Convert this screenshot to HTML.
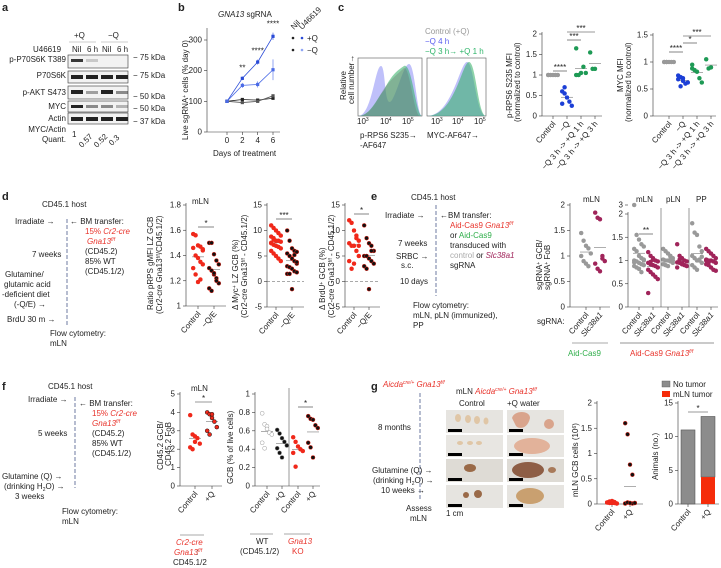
<!DOCTYPE html>
<html><head><meta charset="utf-8"><style>
html,body{margin:0;padding:0;background:#fff;}
svg{display:block;font-family:"Liberation Sans",sans-serif;}
text{font-size:8px;fill:#222;}
.pl{font-size:11px;font-weight:bold;}
.red{fill:#e8322a;}
</style></head><body>
<svg id="fig" width="721" height="568" viewBox="0 0 721 568">
<text class="pl" x="2" y="11">a</text>
<text class="pl" x="178" y="11">b</text>
<text class="pl" x="338" y="11">c</text>
<text class="pl" x="2" y="200">d</text>
<text class="pl" x="371" y="200">e</text>
<text class="pl" x="2" y="390">f</text>
<text class="pl" x="371" y="390">g</text>

<g>
<text x="74" y="38">+Q</text>
<line x1="69" y1="42" x2="96" y2="42" stroke="#999" stroke-width="0.6"/>
<text x="108" y="38">−Q</text>
<line x1="101" y1="42" x2="128" y2="42" stroke="#999" stroke-width="0.6"/>
<text x="33" y="52">U46619</text><text x="72" y="52">Nil</text><text x="87" y="52">6 h</text><text x="102" y="52">Nil</text><text x="117" y="52">6 h</text>
<text x="66" y="62" text-anchor="end">p-P70S6K T389</text>
<text x="66" y="78" text-anchor="end">P70S6K</text>
<text x="66" y="95" text-anchor="end">p-AKT S473</text>
<text x="66" y="109" text-anchor="end">MYC</text>
<text x="66" y="121" text-anchor="end">Actin</text>
<text x="66" y="132" text-anchor="end">MYC/Actin</text>
<text x="66" y="142" text-anchor="end">Quant.</text>
<rect x="68" y="55" width="60" height="13" fill="#f2f2f2" stroke="#333" stroke-width="0.6"/>
<rect x="68" y="71" width="60" height="12" fill="#f2f2f2" stroke="#333" stroke-width="0.6"/>
<rect x="68" y="86" width="60" height="13" fill="#f2f2f2" stroke="#333" stroke-width="0.6"/>
<rect x="68" y="101" width="60" height="11" fill="#f2f2f2" stroke="#333" stroke-width="0.6"/>
<rect x="68" y="113" width="60" height="11" fill="#f2f2f2" stroke="#333" stroke-width="0.6"/>
<g fill="#222">
<rect x="71" y="59" width="12" height="3" opacity="0.9"/><rect x="86" y="59" width="12" height="3" opacity="0.2"/>
<rect x="71" y="75" width="12" height="4"/><rect x="86" y="75" width="12" height="4"/><rect x="101" y="75" width="12" height="4"/><rect x="116" y="75" width="12" height="4"/>
<rect x="71" y="90" width="12" height="4"/><rect x="86" y="91" width="12" height="3" opacity="0.4"/><rect x="101" y="90" width="12" height="4"/><rect x="116" y="91" width="12" height="3" opacity="0.5"/>
<rect x="71" y="105" width="12" height="3"/><rect x="86" y="105" width="12" height="3" opacity="0.5"/><rect x="101" y="105" width="12" height="3" opacity="0.5"/><rect x="116" y="105" width="12" height="3" opacity="0.3"/>
<rect x="71" y="117" width="12" height="4"/><rect x="86" y="117" width="12" height="4"/><rect x="101" y="117" width="12" height="4"/><rect x="116" y="117" width="12" height="4"/>
</g>
<text x="133" y="60">− 75 kDa</text><text x="133" y="78">− 75 kDa</text><text x="133" y="99">− 50 kDa</text><text x="133" y="111">− 50 kDa</text><text x="133" y="124">− 37 kDa</text>
<text x="72" y="137">1</text>
<text transform="translate(82,148) rotate(-45)">0.57</text>
<text transform="translate(97,148) rotate(-45)">0.52</text>
<text transform="translate(112,146) rotate(-45)">0.3</text>
</g>

<text x="218" y="17"><tspan font-style="italic">GNA13</tspan> sgRNA</text>
<text transform="translate(188,140) rotate(-90)">Live sgRNA<tspan dy="-2" font-size="5">+</tspan><tspan dy="2"> cells (% day 0)</tspan></text>
<text x="213" y="156">Days of treatment</text>
<text transform="translate(294,30) rotate(-45)">Nil</text>
<text transform="translate(302,30) rotate(-45)">U46619</text>
<g>
<circle cx="293" cy="38" r="1.3" fill="#222"/><circle cx="302" cy="38" r="1.3" fill="#2a4bd7"/><text x="307" y="41">+Q</text>
<circle cx="293" cy="50" r="1.3" fill="#222"/><circle cx="302" cy="50" r="1.3" fill="#8fa6f5"/><text x="307" y="53">−Q</text>
</g>
<g id="b-chart"></g>

<text x="425" y="34" style="fill:#999">Control (+Q)</text>
<text x="425" y="44" style="fill:#5a5ef0">−Q 4 h</text>
<text x="425" y="54" style="fill:#2fb56a">−Q 3 h→ +Q 1 h</text>
<text transform="translate(346,100) rotate(-90)">Relative</text>
<text transform="translate(354,104) rotate(-90)">cell number→</text>
<g>
<rect x="358" y="58" width="64" height="58" fill="none" stroke="#555" stroke-width="0.6"/>
<path d="M358,116 C372,116 375,66 381,66 C386,66 384,112 392,100 C398,90 404,64 409,64 C415,64 417,116 422,116Z" fill="#8b8df5" opacity="0.55"/>
<path d="M358,116 C370,116 376,100 384,90 C392,74 398,70 404,66 C412,62 416,116 422,116Z" fill="#2fae63" opacity="0.55"/>
<path d="M358,116 C372,116 378,96 386,86 C394,76 400,72 404,68 C410,66 414,116 420,116Z" fill="#666" opacity="0.3"/>
<text x="357" y="124">10<tspan dy="-3" font-size="5">3</tspan></text><text x="380" y="124">10<tspan dy="-3" font-size="5">4</tspan></text><text x="402" y="124">10<tspan dy="-3" font-size="5">5</tspan></text>
<text x="360" y="138">p-RPS6 S235→</text><text x="360" y="148">-AF647</text>
</g>
<g>
<rect x="427" y="58" width="59" height="58" fill="none" stroke="#555" stroke-width="0.6"/>
<path d="M427,116 C452,116 460,62 467,62 C474,62 476,116 486,116Z" fill="#8b8df5" opacity="0.55"/>
<path d="M427,116 C455,116 462,62 469,62 C476,62 478,116 486,116Z" fill="#2fae63" opacity="0.55"/>
<text x="431" y="124">10<tspan dy="-3" font-size="5">3</tspan></text><text x="452" y="124">10<tspan dy="-3" font-size="5">4</tspan></text><text x="474" y="124">10<tspan dy="-3" font-size="5">5</tspan></text>
<text x="427" y="138">MYC-AF647→</text>
</g>
<text transform="translate(512,118) rotate(-90)">p-RPS6 S235 MFI</text>
<text transform="translate(520,122) rotate(-90)">(normalized to control)</text>
<text transform="translate(623,92) rotate(-90)">MYC MFI</text>
<text transform="translate(631,122) rotate(-90)">(normalized to control)</text>

<g>
<text x="42" y="207">CD45.1 host</text>
<text x="15" y="224">Irradiate →</text>
<line x1="67" y1="219" x2="67" y2="325" stroke="#4a5a8a" stroke-dasharray="4,2" stroke-width="0.8"/>
<text x="70" y="224">← BM transfer:</text>
<text x="85" y="234" class="red">15% <tspan font-style="italic">Cr2-cre</tspan></text>
<text x="87" y="244" class="red" font-style="italic">Gna13<tspan dy="-3" font-size="5">f/f</tspan></text>
<text x="85" y="254">(CD45.2)</text><text x="85" y="264">85% WT</text><text x="85" y="274">(CD45.1/2)</text>
<text x="32" y="257">7 weeks</text>
<text x="5" y="277">Glutamine/</text><text x="4" y="287">glutamic acid</text><text x="2" y="297">-deficient diet</text><text x="14" y="307">(-Q/E)    →</text>
<text x="7" y="322">BrdU 30 m →</text>
<text x="50" y="336">Flow cytometry:</text><text x="50" y="346">mLN</text>
</g>
<text x="192" y="204">mLN</text>
<text transform="translate(153,310) rotate(-90)">Ratio pRPS gMFI LZ GCB</text>
<text transform="translate(162,314) rotate(-90)">(Cr2-cre Gna13<tspan font-size="5" dy="-2">f/f</tspan><tspan dy="2">/CD45.1/2)</tspan></text>
<text transform="translate(238,310) rotate(-90)">Δ Myc<tspan font-size="5" dy="-2">+</tspan><tspan dy="2"> LZ GCB (%)</tspan></text>
<text transform="translate(247,318) rotate(-90)">(Cr2-cre Gna13<tspan font-size="5" dy="-2">f/f</tspan><tspan dy="2"> - CD45.1/2)</tspan></text>
<text transform="translate(325,310) rotate(-90)">Δ BrdU<tspan font-size="5" dy="-2">+</tspan><tspan dy="2"> GCB (%)</tspan></text>
<text transform="translate(334,318) rotate(-90)">(Cr2-cre Gna13<tspan font-size="5" dy="-2">f/f</tspan><tspan dy="2"> - CD45.1/2)</tspan></text>

<g>
<text x="411" y="200">CD45.1 host</text>
<text x="385" y="218">Irradiate →</text>
<line x1="436" y1="205" x2="436" y2="296" stroke="#4a5a8a" stroke-dasharray="4,2" stroke-width="0.8"/>
<text x="440" y="218">←BM transfer:</text>
<text x="450" y="228" class="red">Aid-Cas9 <tspan font-style="italic">Gna13<tspan dy="-3" font-size="5">f/f</tspan></tspan></text>
<text x="450" y="238">or <tspan style="fill:#2fae4a">Aid-Cas9</tspan></text>
<text x="450" y="248">transduced with</text>
<text x="450" y="258"><tspan style="fill:#aaa">control</tspan> or <tspan style="fill:#a0245a" font-style="italic">Slc38a1</tspan></text>
<text x="450" y="268">sgRNA</text>
<text x="398" y="246">7 weeks</text>
<text x="396" y="259">SRBC  →</text><text x="401" y="268">s.c.</text>
<text x="400" y="284">10 days</text>
<text x="413" y="308">Flow cytometry:</text><text x="413" y="318">mLN, pLN (immunized),</text><text x="413" y="328">PP</text>
</g>
<text transform="translate(542,290) rotate(-90)">sgRNA<tspan font-size="5" dy="-2">+</tspan><tspan dy="2"> GCB/</tspan></text>
<text transform="translate(550,290) rotate(-90)">sgRNA<tspan font-size="5" dy="-2">+</tspan><tspan dy="2"> FoB</tspan></text>
<text x="583" y="202">mLN</text><text x="636" y="202">mLN</text><text x="666" y="202">pLN</text><text x="696" y="202">PP</text>
<text x="537" y="324">sgRNA:</text>
<line x1="572" y1="343" x2="608" y2="343" stroke="#555" stroke-width="0.6"/>
<text x="568" y="356" style="fill:#2fae4a">Aid-Cas9</text>
<line x1="620" y1="343" x2="714" y2="343" stroke="#aaa" stroke-width="1.2"/>
<text x="630" y="356" class="red">Aid-Cas9 <tspan font-style="italic">Gna13<tspan dy="-3" font-size="5">f/f</tspan></tspan></text>

<g>
<text x="48" y="389">CD45.1 host</text>
<text x="28" y="402">Irradiate →</text>
<line x1="75" y1="397" x2="75" y2="488" stroke="#4a5a8a" stroke-dasharray="4,2" stroke-width="0.8"/>
<text x="79" y="406">← BM transfer:</text>
<text x="92" y="416" class="red">15% <tspan font-style="italic">Cr2-cre</tspan></text>
<text x="92" y="426" class="red" font-style="italic">Gna13<tspan dy="-3" font-size="5">f/f</tspan></text>
<text x="92" y="436">(CD45.2)</text><text x="92" y="446">85% WT</text><text x="92" y="456">(CD45.1/2)</text>
<text x="38" y="436">5 weeks</text>
<text x="2" y="479">Glutamine (Q)  →</text><text x="4" y="489">(drinking H<tspan font-size="5" dy="2">2</tspan><tspan dy="-2">O)</tspan> →</text><text x="15" y="499">3 weeks</text>
<text x="62" y="514">Flow cytometry:</text><text x="62" y="524">mLN</text>
</g>
<text x="191" y="391">mLN</text>
<text transform="translate(163,470) rotate(-90)">CD45.2 GCB/</text>
<text transform="translate(171,466) rotate(-90)">CD45.2 FoB</text>
<line x1="180" y1="535" x2="204" y2="535" stroke="#555" stroke-width="0.6"/>
<text x="176" y="545" class="red" font-style="italic">Cr2-cre</text>
<text x="174" y="555" class="red" font-style="italic">Gna13<tspan dy="-3" font-size="5">f/f</tspan></text><text x="196" y="555">:</text>
<text x="173" y="565">CD45.1/2</text>
<text transform="translate(233,484) rotate(-90)">GCB (% of live cells)</text>
<line x1="250" y1="534" x2="273" y2="534" stroke="#aaa" stroke-width="1"/>
<line x1="284" y1="534" x2="310" y2="534" stroke="#aaa" stroke-width="1"/>
<text x="256" y="544">WT</text><text x="240" y="554">(CD45.1/2)</text>
<text x="288" y="544" class="red" font-style="italic">Gna13</text><text x="292" y="554" class="red">KO</text>

<g>
<text x="383" y="387" class="red" font-style="italic">Aicda<tspan dy="-3" font-size="5">cre/+</tspan><tspan dy="3"> Gna13</tspan><tspan dy="-3" font-size="5">f/f</tspan></text>
<line x1="420" y1="393" x2="420" y2="500" stroke="#4a5a8a" stroke-dasharray="4,2" stroke-width="0.8"/>
<text x="378" y="430">8 months</text>
<text x="372" y="473">Glutamine (Q) →</text><text x="373" y="483">(drinking H<tspan font-size="5" dy="2">2</tspan><tspan dy="-2">O) →</tspan></text><text x="381" y="493">10 weeks →</text>
<text x="406" y="511">Assess</text><text x="410" y="521">mLN</text>
</g>
<text x="456" y="394">mLN <tspan class="red" font-style="italic">Aicda<tspan dy="-3" font-size="5">cre/+</tspan><tspan dy="3"> Gna13</tspan><tspan dy="-3" font-size="5">f/f</tspan></tspan></text>
<text x="459" y="406">Control</text><text x="507" y="406">+Q water</text>
<g>
<rect x="446" y="410" width="57" height="23" fill="#e6e4e0"/><rect x="507" y="410" width="57" height="23" fill="#e6e4e0"/>
<rect x="446" y="435" width="57" height="22" fill="#e8e6e2"/><rect x="507" y="435" width="57" height="22" fill="#e8e6e2"/>
<rect x="446" y="459" width="57" height="23" fill="#dedbd5"/><rect x="507" y="459" width="57" height="23" fill="#dedbd5"/>
<rect x="446" y="485" width="57" height="23" fill="#e6e4e0"/><rect x="507" y="485" width="57" height="23" fill="#e6e4e0"/>
<g fill="#e0c6a6"><ellipse cx="458" cy="418" rx="3" ry="4"/><ellipse cx="468" cy="419" rx="3" ry="4"/><ellipse cx="477" cy="420" rx="3" ry="4"/><ellipse cx="486" cy="421" rx="2.5" ry="3.5"/>
<ellipse cx="460" cy="443" rx="3" ry="2"/><ellipse cx="470" cy="443" rx="3" ry="2"/><ellipse cx="479" cy="443" rx="3" ry="2"/></g>
<g fill="#9a6a48"><ellipse cx="470" cy="468" rx="6" ry="4"/><ellipse cx="478" cy="494" rx="4" ry="4"/><ellipse cx="466" cy="495" rx="3" ry="3"/></g>
<path d="M512,418 C514,410 530,410 530,418 C528,428 520,430 516,426Z" fill="#d9a48c"/><circle cx="549" cy="424" r="5" fill="#d9a48c"/>
<ellipse cx="532" cy="446" rx="18" ry="8" fill="#e2b29a"/>
<ellipse cx="528" cy="470" rx="16" ry="8" fill="#8e5e45"/><ellipse cx="552" cy="470" rx="4" ry="3" fill="#a87a5a"/>
<ellipse cx="530" cy="496" rx="14" ry="8" fill="#c9a070"/>
<g fill="#000"><rect x="448" y="429" width="14" height="3"/><rect x="509" y="429" width="14" height="3"/><rect x="448" y="453" width="14" height="3"/><rect x="509" y="453" width="14" height="3"/><rect x="448" y="478" width="14" height="3"/><rect x="509" y="478" width="14" height="3"/><rect x="448" y="504" width="14" height="3"/><rect x="509" y="504" width="14" height="3"/></g>
</g>
<text x="446" y="516">1 cm</text>
<text transform="translate(578,497) rotate(-90)">mLN GCB cells (10<tspan font-size="5" dy="-2">6</tspan><tspan dy="2">)</tspan></text>
<text transform="translate(658,480) rotate(-90)">Animals (no.)</text>
<g>
<rect x="662" y="381" width="8" height="6" fill="#8c8c8c" stroke="#555" stroke-width="0.4"/><text x="673" y="387">No tumor</text>
<rect x="662" y="391" width="8" height="6" fill="#f52c0a"/><text x="673" y="397">mLN tumor</text>
</g>

<g id="plots"></g>
</svg>
<script>
const bDays = [0, 2, 4, 6];
const bNilPlusQ = [100, 106, 104, 110];
const bNilMinusQ = [100, 96, 100, 118];
const bU46PlusQ = [100, 175, 228, 312];
const bU46MinusQ = [100, 152, 155, 203];
const bErrU46PlusQ = [0, 6, 8, 12];
const bErrU46MinusQ = [0, 8, 10, 34];
const bYTicks = [0, 100, 200, 300];
const bSig = ["", "**", "****", "****"];

const c1Control = [1, 1, 1, 1, 1, 1];
const c1MinusQ = [0.6, 0.7, 0.45, 0.35, 0.25, 0.3, 0.55];
const c1Re1h = [1.65, 1.0, 1.05, 1.2, 1.05, 1.0];
const c1Re3h = [1.55, 1.15, 1.15];
const c2Control = [1, 1, 1, 1, 1, 1, 1];
const c2MinusQ = [0.75, 0.72, 0.65, 0.6, 0.62, 0.68, 0.55, 0.7];
const c2Re1h = [0.95, 0.85, 0.82, 0.7, 0.62, 0.88];
const c2Re3h = [1.05, 0.88, 0.9];
const d1Control = [1.57, 1.56, 1.48, 1.47, 1.45, 1.46, 1.40, 1.38, 1.35, 1.33, 1.30, 1.25, 1.19, 1.21, 1.44];
const d1MinusQE = [1.50, 1.50, 1.41, 1.36, 1.33, 1.30, 1.28, 1.25, 1.22, 1.18, 1.14, 1.12, 1.26, 1.20];
const d2Control = [11, 10.5, 10, 9.5, 9, 8.8, 8.5, 8, 8, 7.8, 7.5, 7.2, 7, 6.8, 6.5, 6, 5.5, 5, 4.5, 4, 7.6, 8.2];
const d2MinusQE = [10, 8, 6.5, 6, 5.8, 5.5, 5, 4.5, 4, 3.5, 3, 2.8, 2.5, 2, 1.8, 1.5, 1.5, -1.5, 5.2, 3.8];
const d3Control = [12, 11.5, 10, 9, 8, 7.5, 7, 7, 6, 5, 4, 2.5, 3.5, 8.5, 7];
const d3MinusQE = [11, 8.5, 7.5, 7, 6, 5, 5, 4.5, 4, 3.5, 3, 2.5, -1.5, 6];
const e1Control = [1.45, 1.3, 1.2, 1.15, 1.05, 1.0, 0.9, 0.85, 0.8];
const e1Slc = [1.85, 1.75, 1.72, 1.0, 0.9, 0.85, 0.75, 0.7, 0.95];
const e2mLNControl = [3.0, 1.55, 1.45, 1.35, 1.3, 1.25, 1.2, 1.1, 1.05, 1.0, 1.0, 0.98, 0.95, 0.92, 0.9, 0.88, 0.85, 0.82, 0.75, 1.02, 0.96];
const e2mLNSlc = [1.18, 1.1, 1.05, 1.0, 0.98, 0.95, 0.92, 0.9, 0.88, 0.85, 0.8, 0.75, 0.7, 0.65, 0.6, 0.3, 0.97, 1.02];
const e2pLNControl = [1.25, 1.2, 1.15, 1.1, 1.05, 1.02, 1.0, 1.0, 0.98, 0.95, 0.92, 0.9, 0.88, 1.08, 1.0];
const e2pLNSlc = [1.35, 1.1, 1.05, 1.0, 0.98, 0.96, 0.95, 0.92, 0.9, 0.88, 0.85, 1.02, 0.94];
const e2PPControl = [1.8, 1.6, 1.55, 1.3, 1.2, 1.1, 1.05, 1.0, 1.0, 0.95, 0.9, 0.85, 0.8, 1.02, 1.08];
const e2PPSlc = [1.25, 1.2, 1.15, 1.1, 1.05, 1.02, 1.0, 1.0, 0.98, 0.95, 0.92, 0.9, 0.85, 0.8, 0.78, 1.0, 0.96];
const f1Control = [3.85, 2.8, 2.7, 2.6, 2.3, 2.1, 2.0, 2.4];
const f1PlusQ = [4.0, 3.9, 3.7, 3.5, 3.2, 3.0, 2.8, 3.9];
const f2WTControl = [0.79, 0.67, 0.65, 0.58, 0.56, 0.47, 0.41, 0.62];
const f2WTPlusQ = [0.61, 0.57, 0.52, 0.48, 0.44, 0.41, 0.36, 0.31];
const f2KOControl = [0.53, 0.48, 0.43, 0.40, 0.38, 0.36, 0.21];
const f2KOPlusQ = [0.76, 0.73, 0.72, 0.66, 0.63, 0.47, 0.42, 0.31];
const g1Control = [0.03, 0.05, 0.02, 0.04, 0.01, 0.03, 0.02, 0.06, 0.02, 0.01, 0.03];
const g1PlusQ = [1.6, 1.38, 0.78, 0.58, 0.02, 0.01, 0.03, 0.02, 0.01, 0.02, 0.01, 0.03, 0.02];
const g2Categories = ["Control", "+Q"];
const g2NoTumor = [11, 9];
const g2Tumor = [0, 4];

const NS = "http://www.w3.org/2000/svg";
const root = document.getElementById("plots");
function mk(tag, attrs, parent) {
  const e = document.createElementNS(NS, tag);
  for (const k in attrs) e.setAttribute(k, attrs[k]);
  (parent || root).appendChild(e);
  return e;
}
function lin(d0, d1, r0, r1) { return v => r0 + (v - d0) * (r1 - r0) / (d1 - d0); }

(function () {
  const g = document.getElementById("b-chart");
  const x = lin(0, 6, 227, 273), y = lin(0, 300, 132, 40);
  mk("line", {x1: 207, y1: 28, x2: 207, y2: 132, stroke: "#333", "stroke-width": 0.6}, g);
  mk("line", {x1: 207, y1: 132, x2: 280, y2: 132, stroke: "#333", "stroke-width": 0.6}, g);
  bYTicks.forEach(t => {
    mk("line", {x1: 204, y1: y(t), x2: 207, y2: y(t), stroke: "#333", "stroke-width": 0.6}, g);
    const tx = mk("text", {x: 202, y: y(t) + 2.5, "text-anchor": "end"}, g); tx.textContent = t;
  });
  bDays.forEach(d => {
    mk("line", {x1: x(d), y1: 132, x2: x(d), y2: 135, stroke: "#333", "stroke-width": 0.6}, g);
    const tx = mk("text", {x: x(d), y: 143, "text-anchor": "middle"}, g); tx.textContent = d;
  });
  const series = [[bNilPlusQ, "#222", null], [bNilMinusQ, "#555", null], [bU46PlusQ, "#2a4bd7", bErrU46PlusQ], [bU46MinusQ, "#4a6ae6", bErrU46MinusQ]];
  series.forEach(([vals, col, err]) => {
    const p = mk("polyline", {points: vals.map((v, i) => x(bDays[i]) + "," + y(v)).join(" "), fill: "none", stroke: col, "stroke-width": 0.8}, g);
    
    
    vals.forEach((v, i) => {
      if (err) mk("line", {x1: x(bDays[i]), y1: y(v - err[i]), x2: x(bDays[i]), y2: y(v + err[i]), stroke: col, "stroke-width": 0.6}, g);
      const pt = mk("rect", {x: x(bDays[i]) - 1.6, y: y(v) - 1.6, width: 3.2, height: 3.2, fill: col}, g);
      
      
    });
  });
  bSig.forEach((s, i) => {
    if (!s) return;
    const v = bU46PlusQ[i] + bErrU46PlusQ[i];
    const t = mk("text", {x: x(bDays[i]), y: y(v) - 6, "text-anchor": "middle"}, g); t.textContent = s;
  });
})();

function dotPlot(opt) {
  const y = lin(opt.y0, opt.y1, opt.py0, opt.py1);
  mk("line", {x1: opt.ax, y1: opt.py1 - 2, x2: opt.ax, y2: opt.py0, stroke: "#333", "stroke-width": 0.6});
  mk("line", {x1: opt.ax, y1: opt.py0, x2: opt.axEnd, y2: opt.py0, stroke: "#333", "stroke-width": 0.6});
  opt.ticks.forEach(t => {
    const yy = opt.tickPos ? opt.tickPos(t) : y(t);
    mk("line", {x1: opt.ax - 3, y1: yy, x2: opt.ax, y2: yy, stroke: "#333", "stroke-width": 0.6});
    const tx = mk("text", {x: opt.ax - 5, y: yy + 2.5, "text-anchor": "end"}); tx.textContent = t;
  });
  if (opt.zeroLine) mk("line", {x1: opt.ax, y1: y(0), x2: opt.axEnd, y2: y(0), stroke: "#555", "stroke-width": 0.6, "stroke-dasharray": "3,2"});
  opt.groups.forEach((vals, gi) => {
    const cx = opt.cats[gi];
    mk("line", {x1: cx, y1: opt.py0, x2: cx, y2: opt.py0 + 3, stroke: "#333", "stroke-width": 0.6});
    const lbl = mk("text", {transform: `translate(${cx + 3},${opt.py0 + 8}) rotate(-50)`, "text-anchor": "end"});
    lbl.textContent = opt.labels[gi];
    if (opt.italic && opt.italic[gi]) lbl.setAttribute("font-style", "italic");
    const mean = vals.reduce((a, b) => a + b, 0) / vals.length;
    const yv = opt.map ? opt.map : y;
    mk("line", {x1: cx - 6, y1: yv(mean), x2: cx + 6, y2: yv(mean), stroke: "#777", "stroke-width": 0.6});
    vals.forEach((v, i) => {
      const off = ((i % 5) - 2) * 2.4;
      const c = mk("circle", {cx: cx + off, cy: yv(v), r: 2, fill: opt.fill[gi], stroke: opt.stroke[gi], "stroke-width": 0.5});
      
      
    });
  });
  (opt.sig || []).forEach(s => {
    const yy = opt.py1 + s[3];
    mk("line", {x1: opt.cats[s[0]], y1: yy, x2: opt.cats[s[1]], y2: yy, stroke: "#333", "stroke-width": 0.6});
    const t = mk("text", {x: (opt.cats[s[0]] + opt.cats[s[1]]) / 2, y: yy - 1, "text-anchor": "middle"}); t.textContent = s[2];
  });
  (opt.dividers || []).forEach(dx => mk("line", {x1: dx, y1: opt.py1 - 6, x2: dx, y2: opt.py0, stroke: "#555", "stroke-width": 0.6}));
}
const gray = "#999", blue = "#1c3fd6", green = "#1e9a55", red = "#f0281a", blk = "#111", plum = "#a0245a";
dotPlot({ax: 542, axEnd: 602, y0: 0, y1: 2, py0: 116, py1: 34, ticks: [0, 0.5, 1.0, 1.5, 2.0], cats: [553, 567, 581, 595],
  groups: [c1Control, c1MinusQ, c1Re1h, c1Re3h], labels: ["Control", "−Q", "−Q 3 h -> +Q 1 h", "−Q 3 h -> +Q 3 h"],
  fill: [gray, blue, green, green], stroke: [gray, blue, green, green], sig: [[0, 1, "****", 37], [1, 2, "***", 6], [1, 3, "***", -2]]});
dotPlot({ax: 653, axEnd: 716, y0: 0, y1: 1.5, py0: 116, py1: 35, ticks: [0, 0.5, 1.0, 1.5], cats: [669, 683, 697, 711],
  groups: [c2Control, c2MinusQ, c2Re1h, c2Re3h], labels: ["Control", "−Q", "−Q 3 h -> +Q 1 h", "−Q 3 h -> +Q 3 h"],
  fill: [gray, blue, green, green], stroke: [gray, blue, green, green], sig: [[0, 1, "****", 17], [1, 2, "*", 8], [1, 3, "***", 1]]});
dotPlot({ax: 186, axEnd: 226, y0: 1.0, y1: 1.8, py0: 306, py1: 205, ticks: [1.0, 1.2, 1.4, 1.6, 1.8], cats: [198, 214],
  groups: [d1Control, d1MinusQE], labels: ["Control", "−Q/E"], fill: [red, blk], stroke: [red, red], sig: [[0, 1, "*", 22]]});
dotPlot({ax: 267, axEnd: 304, y0: -5, y1: 15, py0: 307, py1: 205, ticks: [-5, 0, 5, 10, 15], cats: [276, 292], zeroLine: true,
  groups: [d2Control, d2MinusQE], labels: ["Control", "−Q/E"], fill: [red, blk], stroke: [red, red], sig: [[0, 1, "***", 14]]});
dotPlot({ax: 345, axEnd: 380, y0: -5, y1: 15, py0: 307, py1: 205, ticks: [-5, 0, 5, 10, 15], cats: [354, 369], zeroLine: true,
  groups: [d3Control, d3MinusQE], labels: ["Control", "−Q/E"], fill: [red, blk], stroke: [red, red], sig: [[0, 1, "*", 9]]});
dotPlot({ax: 570, axEnd: 610, y0: 0, y1: 2, py0: 307, py1: 205, ticks: [0, 0.5, 1.0, 1.5, 2.0], cats: [586, 600],
  groups: [e1Control, e1Slc], labels: ["Control", "Slc38a1"], italic: [false, true], fill: [gray, plum], stroke: [gray, plum]});
const e2map = v => v <= 2 ? lin(0, 2, 307, 214)(v) : 214 - (v - 2) * 9;
dotPlot({ax: 628, axEnd: 718, y0: 0, y1: 2, py0: 307, py1: 214, map: e2map, tickPos: e2map, ticks: [0, 0.5, 1.0, 1.5, 2.0, 3.0], cats: [639, 653, 668, 682, 697, 711],
  groups: [e2mLNControl, e2mLNSlc, e2pLNControl, e2pLNSlc, e2PPControl, e2PPSlc], labels: ["Control", "Slc38a1", "Control", "Slc38a1", "Control", "Slc38a1"],
  italic: [false, true, false, true, false, true], fill: [gray, plum, gray, plum, gray, plum], stroke: [gray, plum, gray, plum, gray, plum],
  sig: [[0, 1, "**", 20]], dividers: [661, 689]});
dotPlot({ax: 180, axEnd: 222, y0: 0, y1: 5, py0: 486, py1: 394, ticks: [0, 1, 2, 3, 4, 5], cats: [195, 212],
  groups: [f1Control, f1PlusQ], labels: ["Control", "+Q"], fill: [red, red], stroke: [red, blk], sig: [[0, 1, "*", 8]]});
dotPlot({ax: 255, axEnd: 320, y0: 0, y1: 1.0, py0: 486, py1: 394, ticks: [0, 0.2, 0.4, 0.6, 0.8, 1.0], cats: [267, 282, 298, 313],
  groups: [f2WTControl, f2WTPlusQ, f2KOControl, f2KOPlusQ], labels: ["Control", "+Q", "Control", "+Q"],
  fill: ["#fff", blk, red, blk], stroke: [gray, "#888", red, red], sig: [[2, 3, "*", 13]], dividers: [289]});
dotPlot({ax: 597, axEnd: 643, y0: 0, y1: 2, py0: 504, py1: 403, ticks: [0, 0.5, 1.0, 1.5, 2.0], cats: [612, 630],
  groups: [g1Control, g1PlusQ], labels: ["Control", "+Q"], fill: [red, blk], stroke: [red, red]});

(function () {
  const y = lin(0, 15, 504, 403);
  const xc = [688, 708];
  mk("line", {x1: 678, y1: 401, x2: 678, y2: 504, stroke: "#333", "stroke-width": 0.6});
  mk("line", {x1: 678, y1: 504, x2: 719, y2: 504, stroke: "#333", "stroke-width": 0.6});
  [0, 5, 10, 15].forEach(t => {
    mk("line", {x1: 675, y1: y(t), x2: 678, y2: y(t), stroke: "#333", "stroke-width": 0.6});
    const tx = mk("text", {x: 673, y: y(t) + 2.5, "text-anchor": "end"}); tx.textContent = t;
  });
  g2Categories.forEach((c, i) => {
    const tot = g2NoTumor[i] + g2Tumor[i];
    const b1 = mk("rect", {x: xc[i] - 7, y: y(tot), width: 14, height: y(g2Tumor[i]) - y(tot), fill: "#8c8c8c", stroke: "#444", "stroke-width": 0.5});
    
    
    const b2 = mk("rect", {x: xc[i] - 7, y: y(g2Tumor[i]), width: 14, height: y(0) - y(g2Tumor[i]), fill: "#f52c0a"});
    
    
    mk("line", {x1: xc[i], y1: 504, x2: xc[i], y2: 507, stroke: "#333", "stroke-width": 0.6});
    const l = mk("text", {transform: `translate(${xc[i] + 3},512) rotate(-50)`, "text-anchor": "end"}); l.textContent = c;
  });
  mk("line", {x1: xc[0], y1: 412, x2: xc[1], y2: 412, stroke: "#333", "stroke-width": 0.6});
  const s = mk("text", {x: 698, y: 411, "text-anchor": "middle"}); s.textContent = "*";
})();
</script>
</body></html>
